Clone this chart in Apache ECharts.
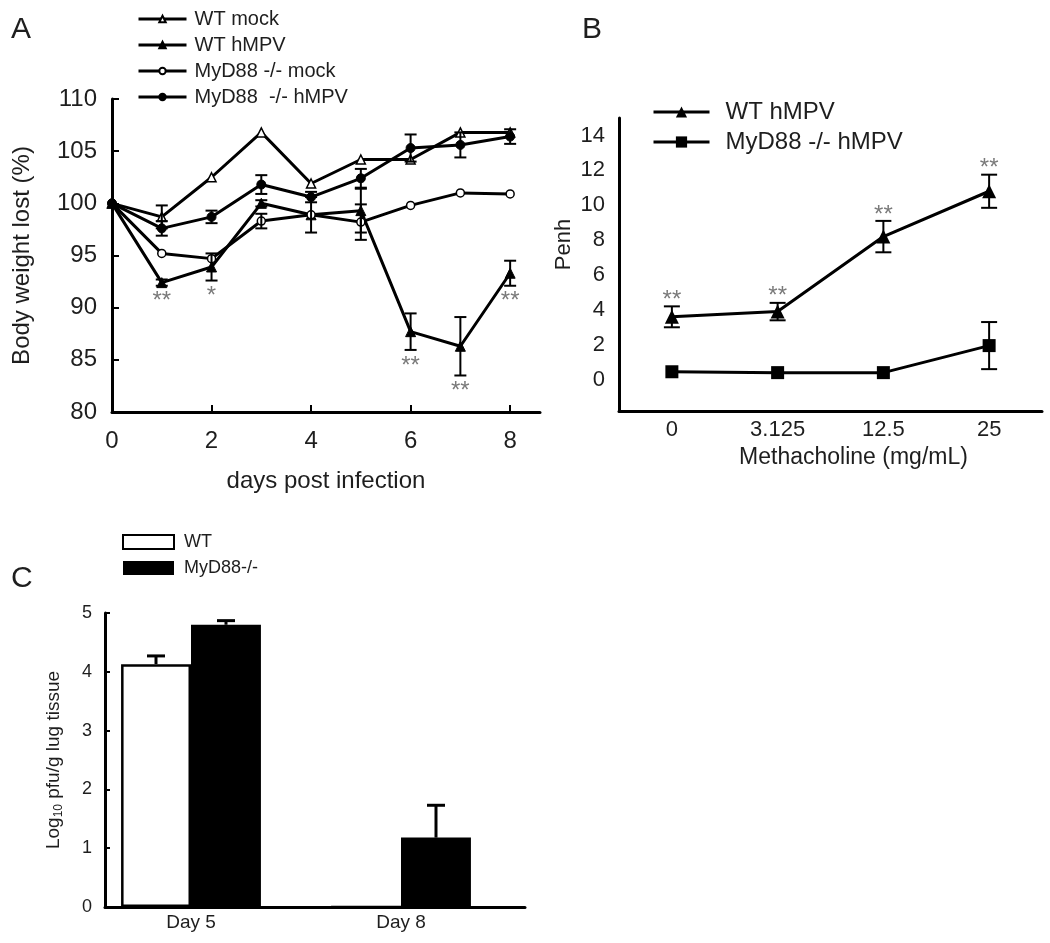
<!DOCTYPE html>
<html><head><meta charset="utf-8">
<script src="https://cdn.jsdelivr.net/npm/echarts@6/dist/echarts.min.js"></script>
<style>html,body{margin:0;padding:0;background:#fff}#c{width:1050px;height:943px}</style>
</head><body><div id="c"></div><script>
// ---------- Panel A: body weight ----------
const days = [0, 1, 2, 3, 4, 5, 6, 7, 8];
const daysTicks = [0, 2, 4, 6, 8];
const wtMock     = [100, 98.7, 102.5, 106.8, 101.9, 104.2, 104.2, 106.8, 106.8];
const wtMockErr  = [0, 1.1, 0, 0, 0, 0, 0, 0, 0];
const wtHmpv     = [100, 92.4, 93.9, 100.0, 98.9, 99.3, 87.7, 86.3, 93.3];
const wtHmpvErr  = [0, 0.3, 1.3, 0.3, 1.7, 2.1, 1.75, 2.8, 1.2];
const koMock     = [100, 95.2, 94.7, 98.3, 98.9, 98.2, 99.8, 101.0, 100.9];
const koMockErr  = [0, 0, 0, 0.7, 0, 1.7, 0, 0, 0];
const koHmpv     = [100, 97.6, 98.7, 101.8, 100.6, 102.4, 105.3, 105.6, 106.4];
const koHmpvErr  = [0, 0.7, 0.6, 0.9, 0.5, 0.9, 1.3, 1.2, 0.7];
const starsA     = ['', '**', '*', '', '', '', '**', '**', '**'];

// ---------- Panel B: Penh ----------
const doses      = ['0', '3.125', '12.5', '25'];
const penhTicks  = [0, 2, 4, 6, 8, 10, 12, 14];
const penhWt     = [3.6, 3.9, 8.2, 10.8];
const penhWtErr  = [0.6, 0.5, 0.9, 0.95];
const penhKo     = [0.45, 0.4, 0.4, 1.95];
const penhKoErr  = [0, 0, 0, 1.35];
const starsB     = ['**', '**', '**', '**'];

// ---------- Panel C: lung titers ----------
const daysC      = ['Day 5', 'Day 8'];
const titerWt    = [4.13, 0];
const titerWtErr = [0.14, 0];
const titerKo    = [4.8, 1.18];
const titerKoErr = [0.07, 0.55];

const FONT = 'Liberation Sans, Arial, sans-serif';
const TXT = '#1e1e1e';

function errSeries(xIdx, yIdx, xs, means, errs, opt) {
  return {
    type: 'custom', xAxisIndex: xIdx, yAxisIndex: yIdx, silent: true, z: 6,
    data: xs.map((x, i) => [x, means[i], errs[i]]),
    renderItem(params, api) {
      const m = api.value(1), e = api.value(2);
      if (!e) return null;
      const xv = api.value(0);
      const off = opt.shift ? api.size([1, 0])[0] * opt.shift : 0;
      const p0 = api.coord([xv, m + e]);
      const p1 = api.coord([xv, opt.upOnly ? m : m - e]);
      const cx = p0[0] + off;
      const st = { stroke: '#000', lineWidth: opt.lw };
      const ch = [
        { type: 'line', shape: { x1: cx, y1: p0[1], x2: cx, y2: p1[1] }, style: st },
        { type: 'line', shape: { x1: cx - opt.cap, y1: p0[1], x2: cx + opt.cap, y2: p0[1] }, style: st }
      ];
      if (!opt.upOnly) ch.push({ type: 'line', shape: { x1: cx - opt.cap, y1: p1[1], x2: cx + opt.cap, y2: p1[1] }, style: st });
      return { type: 'group', children: ch };
    }
  };
}

function starSeries(xIdx, yIdx, xs, means, errs, labels, below, gap) {
  return {
    type: 'custom', xAxisIndex: xIdx, yAxisIndex: yIdx, silent: true, z: 7,
    data: xs.map((x, i) => [x, means[i], errs[i], i]),
    renderItem(params, api) {
      const i = api.value(3);
      const t = labels[i];
      if (!t) return null;
      const m = api.value(1), e = api.value(2);
      const p = api.coord([api.value(0), below ? m - e : m + e]);
      return {
        type: 'text', x: p[0], y: p[1] + (below ? gap : -gap),
        style: { text: t, fill: '#7a7a7a', font: '24px ' + FONT, align: 'center', verticalAlign: 'middle' }
      };
    }
  };
}

function lineA(name, data, symbol, size, open) {
  return {
    type: 'line', name, xAxisIndex: 0, yAxisIndex: 0, data: days.map((d, i) => [d, data[i]]),
    symbol, symbolSize: size, showAllSymbol: true, z: 3,
    lineStyle: { color: '#000', width: 3 },
    itemStyle: open ? { color: '#fff', borderColor: '#000', borderWidth: 1.5 } : { color: '#000', borderColor: '#000', borderWidth: 1 }
  };
}
function lineB(name, data, symbol, size) {
  return {
    type: 'line', name, xAxisIndex: 1, yAxisIndex: 1, data: data,
    symbol, symbolSize: size, z: 3,
    lineStyle: { color: '#000', width: 3 },
    itemStyle: { color: '#000', borderColor: '#000', borderWidth: 0 }
  };
}

const axisLine = { show: true, onZero: false, lineStyle: { color: '#000', width: 3 } };

const option = {
  animation: false,
  backgroundColor: '#fff',
  textStyle: { fontFamily: FONT },
  title: [
    { text: 'A', left: 11, top: 15, padding: 0, textStyle: { fontSize: 30, fontWeight: 'normal', color: TXT, fontFamily: FONT } },
    { text: 'B', left: 582, top: 15, padding: 0, textStyle: { fontSize: 30, fontWeight: 'normal', color: TXT, fontFamily: FONT } },
    { text: 'C', left: 11, top: 564, padding: 0, textStyle: { fontSize: 30, fontWeight: 'normal', color: TXT, fontFamily: FONT } }
  ],
  legend: [
    {
      data: ['WT mock', 'WT hMPV', 'MyD88 -/- mock', 'MyD88  -/- hMPV'],
      orient: 'vertical', left: 137, top: 9, padding: 0, itemWidth: 48, itemHeight: 8, itemGap: 6,
      selectedMode: false, lineStyle: { width: 3, color: '#000' },
      textStyle: { fontSize: 20, lineHeight: 20, color: TXT, fontFamily: FONT, padding: [0, 0, 0, 3] }
    },
    {
      data: ['WT hMPV (B)', 'MyD88 -/- hMPV (B)'], formatter: n => n.replace(' (B)', ''),
      orient: 'vertical', left: 652, top: 100, padding: 0, itemWidth: 56, itemHeight: 14, itemGap: 6,
      selectedMode: false, lineStyle: { width: 3, color: '#000' },
      textStyle: { fontSize: 24, lineHeight: 24, color: TXT, fontFamily: FONT, padding: [0, 0, 0, 11] }
    },
    {
      data: ['WT', 'MyD88-/-'], icon: 'rect',
      orient: 'vertical', left: 122, top: 533, padding: 0, itemWidth: 51, itemHeight: 14, itemGap: 8,
      selectedMode: false,
      textStyle: { fontSize: 18, lineHeight: 18, color: TXT, fontFamily: FONT, padding: [0, 0, 0, 5] }
    }
  ],
  grid: [
    { left: 112, right: 510, top: 99, bottom: 531 },
    { left: 619, right: 8, top: 118, bottom: 532 },
    { left: 105, right: 525, top: 613, bottom: 36 },
    { left: 86, right: 544, top: 613, bottom: 36 }
  ],
  xAxis: [
    {
      type: 'value', gridIndex: 0, min: 0, max: 8.6,
      axisLine, splitLine: { show: false },
      axisTick: { inside: true, length: 7, customValues: daysTicks, lineStyle: { width: 2, color: '#000' } },
      axisLabel: { customValues: daysTicks, fontSize: 24, color: TXT, margin: 17, fontFamily: FONT },
      name: 'days post infection', nameLocation: 'middle', nameGap: 57,
      nameTextStyle: { fontSize: 24, color: TXT, fontFamily: FONT }
    },
    {
      type: 'category', gridIndex: 1, data: doses, boundaryGap: true,
      axisLine,
      axisTick: { inside: true, alignWithLabel: true, length: 5, lineStyle: { width: 2, color: '#000' } },
      axisLabel: { fontSize: 22, color: TXT, margin: 8, fontFamily: FONT },
      name: 'Methacholine (mg/mL)', nameLocation: 'middle', nameGap: 35,
      nameTextStyle: { fontSize: 23, color: TXT, fontFamily: FONT, padding: [0, 0, 0, 46] }
    },
    {
      type: 'value', gridIndex: 2, min: 0, max: 1,
      axisLine, axisTick: { show: false }, axisLabel: { show: false }, splitLine: { show: false }
    },
    {
      type: 'category', gridIndex: 3, data: daysC,
      axisLine: { show: false }, axisTick: { show: false },
      axisLabel: { fontSize: 19, color: TXT, margin: 6, fontFamily: FONT }
    }
  ],
  yAxis: [
    {
      type: 'value', gridIndex: 0, min: 80, max: 110, interval: 5,
      axisLine, splitLine: { show: false },
      axisTick: { inside: true, length: 7, lineStyle: { width: 2, color: '#000' } },
      axisLabel: { fontSize: 24, color: TXT, margin: 15, fontFamily: FONT },
      name: 'Body weight lost (%)', nameLocation: 'middle', nameGap: 78,
      nameTextStyle: { fontSize: 24, color: TXT, fontFamily: FONT }
    },
    {
      type: 'value', gridIndex: 1, min: -1.8, max: 15,
      axisLine, splitLine: { show: false },
      axisTick: { inside: true, length: 6, customValues: penhTicks, lineStyle: { width: 2, color: '#000' } },
      axisLabel: { customValues: penhTicks, fontSize: 22, color: TXT, margin: 14, fontFamily: FONT },
      name: 'Penh', nameLocation: 'middle', nameGap: 44,
      nameTextStyle: { fontSize: 22, color: TXT, fontFamily: FONT, padding: [0, 0, 0, 40] }
    },
    {
      type: 'value', gridIndex: 2, min: 0, max: 5, interval: 1,
      axisLine, splitLine: { show: false },
      axisTick: { inside: true, length: 5, lineStyle: { width: 2, color: '#000' } },
      axisLabel: { fontSize: 18, color: TXT, margin: 13, fontFamily: FONT },
      name: 'Log{s|10} pfu/g lug tissue', nameLocation: 'middle', nameGap: 40,
      nameTextStyle: { fontSize: 19, color: TXT, fontFamily: FONT, lineHeight: 22,
        rich: { s: { fontSize: 12, fontFamily: FONT, color: TXT, verticalAlign: 'bottom', lineHeight: 22 } } }
    },
    {
      type: 'value', gridIndex: 3, min: 0, max: 5, show: false
    }
  ],
  series: [
    lineA('WT mock', wtMock, 'triangle', 9, true),
    lineA('WT hMPV', wtHmpv, 'triangle', 10, false),
    lineA('MyD88 -/- mock', koMock, 'circle', 8, true),
    lineA('MyD88  -/- hMPV', koHmpv, 'circle', 9, false),
    errSeries(0, 0, days, wtMock, wtMockErr, { lw: 2, cap: 6 }),
    errSeries(0, 0, days, wtHmpv, wtHmpvErr, { lw: 2, cap: 6 }),
    errSeries(0, 0, days, koMock, koMockErr, { lw: 2, cap: 6 }),
    errSeries(0, 0, days, koHmpv, koHmpvErr, { lw: 2, cap: 6 }),
    starSeries(0, 0, days, wtHmpv, wtHmpvErr, starsA, true, 16),

    lineB('WT hMPV (B)', penhWt, 'triangle', 14),
    lineB('MyD88 -/- hMPV (B)', penhKo, 'rect', 13),
    errSeries(1, 1, doses, penhWt, penhWtErr, { lw: 2, cap: 8 }),
    errSeries(1, 1, doses, penhKo, penhKoErr, { lw: 2, cap: 8 }),
    starSeries(1, 1, doses, penhWt, penhWtErr, starsB, false, 6),

    {
      type: 'bar', name: 'WT', xAxisIndex: 3, yAxisIndex: 3, data: titerWt,
      barWidth: '33.3%', barGap: '0%',
      itemStyle: { color: '#fff', borderColor: '#000', borderWidth: 2.5 }
    },
    {
      type: 'bar', name: 'MyD88-/-', xAxisIndex: 3, yAxisIndex: 3, data: titerKo,
      barWidth: '33.3%', barGap: '0%',
      itemStyle: { color: '#000', borderColor: '#000', borderWidth: 0 }
    },
    errSeries(3, 3, daysC, titerWt, titerWtErr, { lw: 3, cap: 9, upOnly: true, shift: -1 / 6 }),
    errSeries(3, 3, daysC, titerKo, titerKoErr, { lw: 3, cap: 9, upOnly: true, shift: 1 / 6 })
  ]
};

const chart = echarts.init(document.getElementById('c'), null, { renderer: 'canvas' });
chart.setOption(option);
</script></body></html>
